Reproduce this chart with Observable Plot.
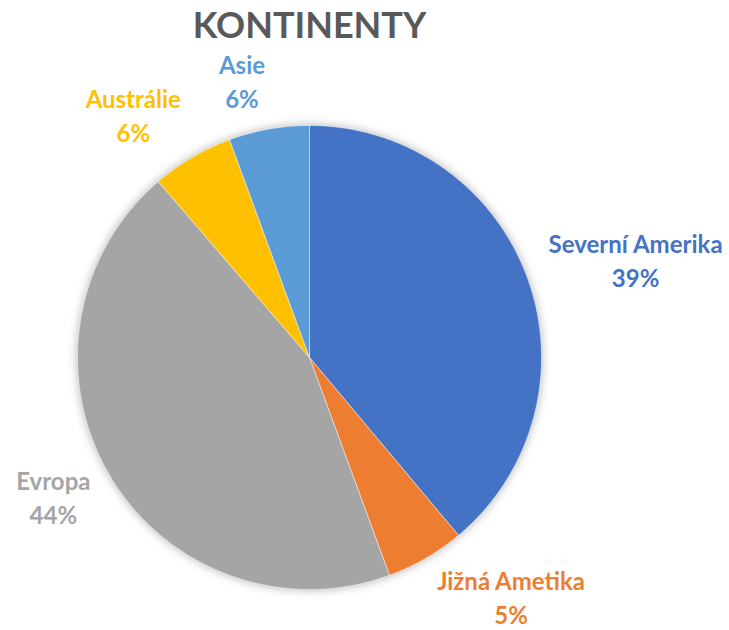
<!DOCTYPE html>
<html>
<head>
<meta charset="utf-8">
<script src="https://cdn.jsdelivr.net/npm/d3@7"></script>
<script src="https://cdn.jsdelivr.net/npm/@observablehq/plot@0.6"></script>
<style>
  html, body { margin: 0; padding: 0; background: #fff; }
  #chart svg { display: block; }
</style>
</head>
<body>
<div id="chart"></div>
<script>
// ---- data ----
const title = "KONTINENTY";
const categories = ["Severní Amerika", "Jižná Ametika", "Evropa", "Austrálie", "Asie"];
const values = [38.9, 5.5, 44.3, 5.7, 5.6];
const percentLabels = ["39%", "5%", "44%", "6%", "6%"];
const colors = ["#4472C4", "#ED7D31", "#A5A5A5", "#FFC000", "#5B9BD5"];

// ---- layout ----
const W = 729, H = 630;
const cx = 309, cy = 357, R = 232;
const fontFamily = "Lato, 'Open Sans', sans-serif";
const labelSize = 24;

const arcs = d3.pie().sort(null).startAngle(0).endAngle(2 * Math.PI)(values);

// polygon points for each slice (angle clockwise from top, y up)
const points = [];
arcs.forEach((a, i) => {
  const name = categories[i];
  points.push({name, x: 0, y: 0});
  const steps = Math.max(2, Math.ceil((a.endAngle - a.startAngle) / (Math.PI / 360)));
  for (let k = 0; k <= steps; k++) {
    const t = a.startAngle + (a.endAngle - a.startAngle) * k / steps;
    points.push({name, x: R * Math.sin(t), y: R * Math.cos(t)});
  }
  points.push({name, x: 0, y: 0});
});

// label placement (Excel-like outside labels)
const ctx = document.createElement("canvas").getContext("2d");
ctx.font = `bold ${labelSize}px ${fontFamily}`;
const labels = arcs.map((a, i) => {
  const m = (a.startAngle + a.endAngle) / 2;
  const s = Math.sin(m), c = Math.cos(m);
  const w = Math.max(ctx.measureText(categories[i]).width, ctx.measureText(percentLabels[i]).width);
  const d = R + 22;
  return {
    name: categories[i],
    text: categories[i] + "\n" + percentLabels[i],
    x: d * s + Math.sign(s) * w / 2,
    y: d * c + c * 25 + 3
  };
});

const plot = Plot.plot({
  width: W,
  height: H,
  margin: 0,
  x: {domain: [-cx, W - cx], range: [0, W], axis: null},
  y: {domain: [cy - H, cy], range: [H, 0], axis: null},
  color: {domain: categories, range: colors},
  style: {fontFamily, background: "white"},
  marks: [
    Plot.line(points, {x: "x", y: "y", z: "name", fill: "name", stroke: "#ffffff", strokeWidth: 0.8, strokeOpacity: 0.6, curve: "linear"}),
    Plot.text(labels, {x: "x", y: "y", text: "text", fill: "name", fontSize: labelSize, fontWeight: "bold", lineHeight: 1.42, textAnchor: "middle"}),
    Plot.text([title], {x: [0], frameAnchor: "top", lineAnchor: "top", dy: 12, fontSize: 36, fontWeight: "bold", fill: "#595959"})
  ]
});
document.getElementById("chart").appendChild(plot);
const pieGroup = plot.querySelector('g[aria-label="line"]');
if (pieGroup) pieGroup.style.filter = "drop-shadow(0px 0px 5px rgba(0,0,0,0.3))";
</script>
</body>
</html>
